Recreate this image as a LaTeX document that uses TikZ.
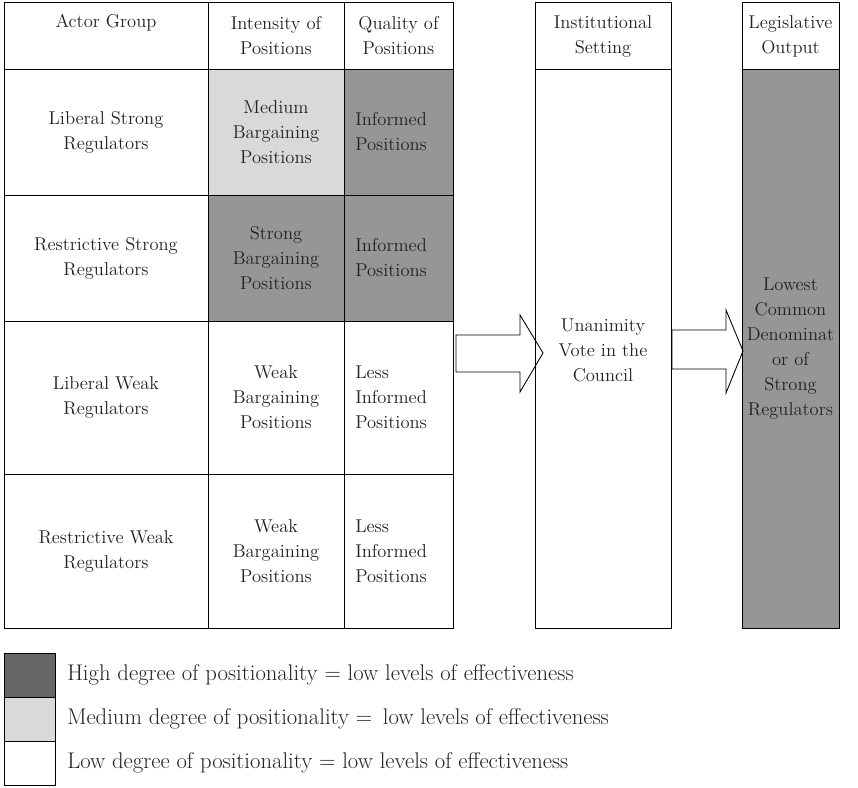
\documentclass[tikz,border=0pt]{standalone}
\usepackage{xcolor}
\usepackage{tikz}
\usetikzlibrary{positioning,calc}
\definecolor{cInk}{HTML}{222222}
\definecolor{cDark}{HTML}{969696}
\definecolor{cLight}{HTML}{D9D9D9}
\definecolor{cDeep}{HTML}{666666}
\tikzset{
  gline/.style={draw=black,line width=0.65pt},
  cell/.style={align=center,font=\fontsize{13.9}{18.75}\selectfont,text=cInk,inner sep=0pt},
  lcell/.style={align=left,anchor=west,font=\fontsize{13.9}{18.75}\selectfont,text=cInk,inner sep=0pt},
  lgd/.style={anchor=west,font=\fontsize{17}{18.75}\selectfont,text=cInk,inner sep=0pt},
  barrow/.style={draw=black,fill=white,line width=0.65pt,line join=miter},
}
\begin{document}
\begin{tikzpicture}[x=0.75pt,y=-0.75pt]
  \useasboundingbox (0,0) rectangle (858,788);
  % shaded cells
  \fill[cLight] (208,69) rectangle (344,195);
  \fill[cDark] (208,195) rectangle (344,321);
  \fill[cDark] (344,69) rectangle (453,321);
  \fill[cDark] (742,69) rectangle (839,628);
  % block arrows
  \draw[barrow] (456,335) -- (520,335) -- (520,315) -- (543,353) -- (520,392) -- (520,372) -- (456,372) -- cycle;
  \draw[barrow] (672,330) -- (726,330) -- (726,310) -- (743,351) -- (726,393) -- (726,369) -- (672,369) -- cycle;
  % table grid
  \draw[gline] (4,2.5) rectangle (453,628);
  \foreach \cx in {208,344}{\draw[gline] (\cx,2.5) -- (\cx,628);}
  \foreach \ry in {69,195,321,474}{\draw[gline] (4,\ry) -- (453,\ry);}
  \draw[gline] (535,2.5) rectangle (671,628);
  \draw[gline] (535,69) -- (671,69);
  \draw[gline] (742,2.5) rectangle (839,628);
  \draw[gline] (742,69) -- (839,69);
  % headers
  \node[cell] (hActor) at (106,23) {Actor Group};
  \node[cell] (hIntens) at (276,36) {Intensity of\\Positions};
  \node[cell] (hQual) at (398.5,36) {Quality of\\Positions};
  \node[cell] (hInst) at (603,36) {Institutional\\Setting};
  \node[cell] (hLeg) at (790.5,36) {Legislative\\Output};
  % actor groups
  \node[cell] (gLS) at (106,132) {Liberal Strong\\Regulators};
  \node[cell] (gRS) at (106,258) {Restrictive Strong\\Regulators};
  \node[cell] (gLW) at (106,397.5) {Liberal Weak\\Regulators};
  \node[cell] (gRW) at (106,551) {Restrictive Weak\\Regulators};
  % intensity
  \node[cell] (iLS) at (276,132) {Medium\\Bargaining\\Positions};
  \node[cell] (iRS) at (276,258) {Strong\\Bargaining\\Positions};
  \node[cell] (iLW) at (276,397.5) {Weak\\Bargaining\\Positions};
  \node[cell] (iRW) at (276,551) {Weak\\Bargaining\\Positions};
  % quality
  \node[lcell] (qLS) at (355,132) {Informed\\Positions};
  \node[lcell] (qRS) at (355,258) {Informed\\Positions};
  \node[lcell] (qLW) at (355,397.5) {Less\\Informed\\Positions};
  \node[lcell] (qRW) at (355,551) {Less\\Informed\\Positions};
  % setting and output
  \node[cell] (inst) at (603,350) {Unanimity\\Vote in the\\Council};
  \node[cell] (outp) at (790.5,348.5) {Lowest\\Common\\Denominat\\or of\\Strong\\Regulators};
  % legend
  \draw[gline,fill=cDeep] (4,653) rectangle (55,697);
  \draw[gline,fill=cLight] (4,697) rectangle (55,741);
  \draw[gline,fill=white] (4,741) rectangle (55,785);
  \node[lgd] (lHigh) at (67,675) {High degree of positionality = low levels of effectiveness};
  \node[lgd] (lMed) at (67,719) {Medium degree of positionality = \,low levels of effectiveness};
  \node[lgd] (lLow) at (67,763) {Low degree of positionality = low levels of effectiveness};
\end{tikzpicture}
\end{document}
